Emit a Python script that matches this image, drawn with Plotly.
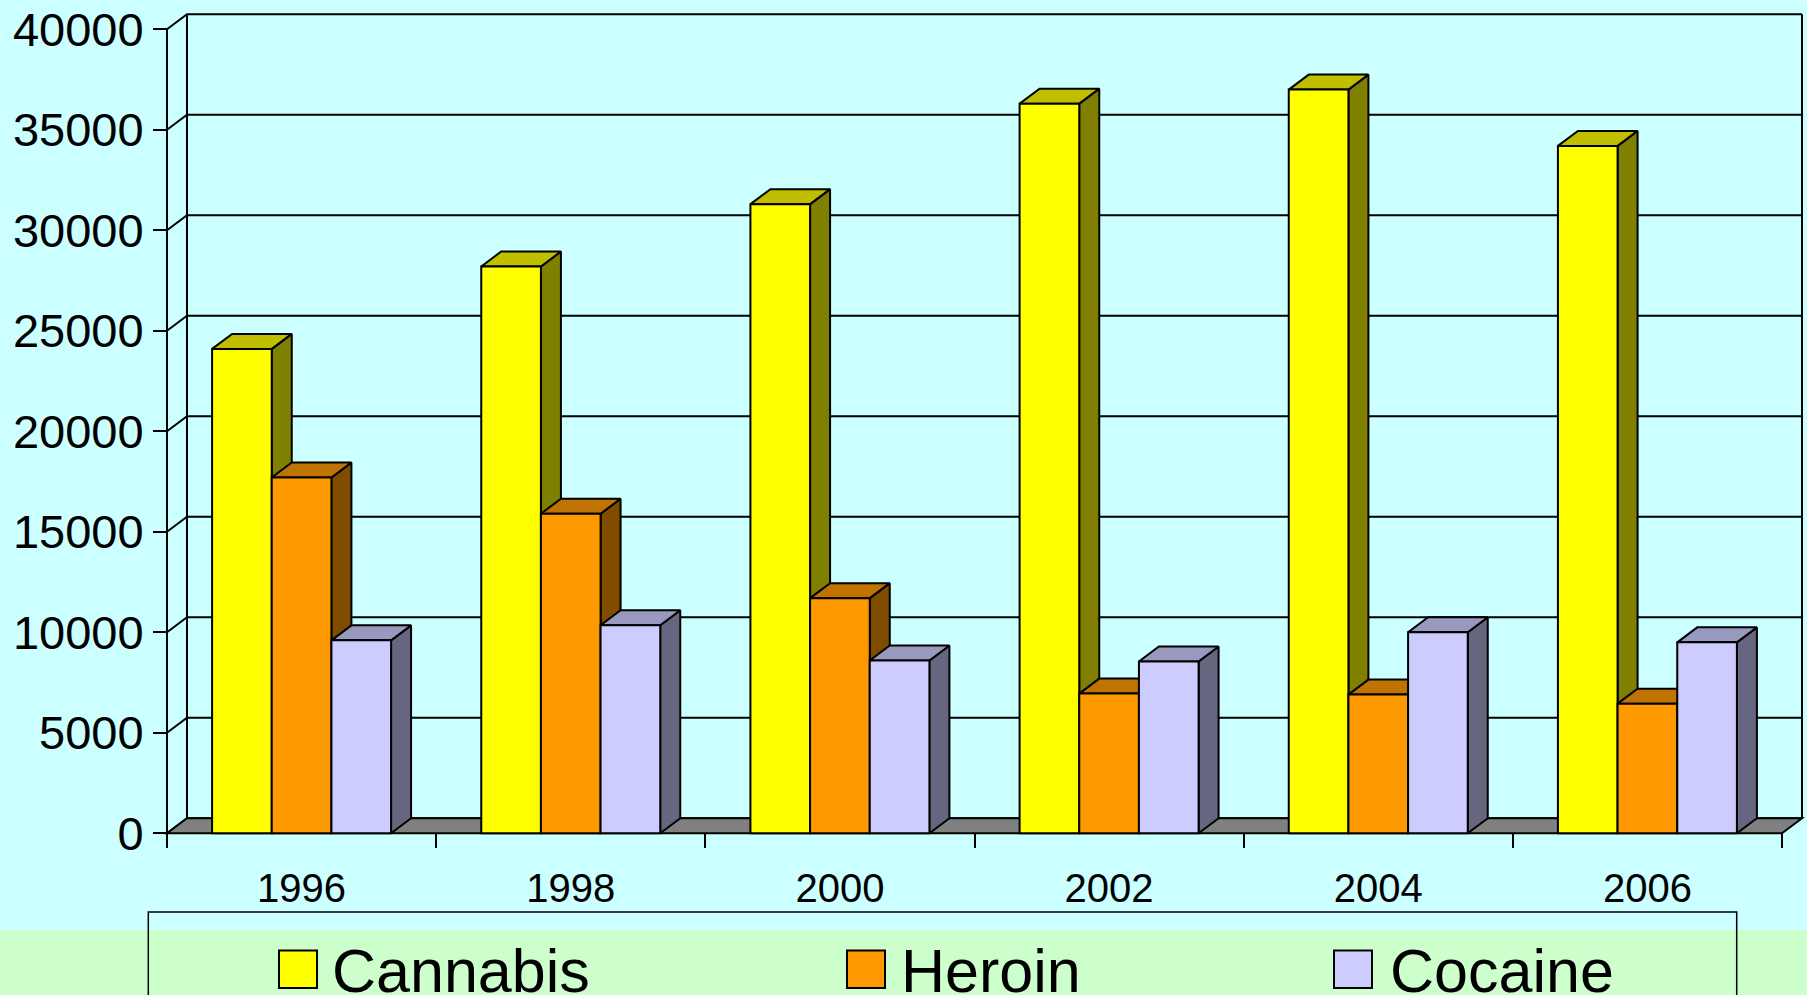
import plotly.graph_objects as go

# ---------------- data ----------------
years = ["1996", "1998", "2000", "2002", "2004", "2006"]
series_names = ["Cannabis", "Heroin", "Cocaine"]
cannabis = [24100, 28200, 31300, 36300, 37000, 34200]
heroin = [17700, 15900, 11700, 6950, 6900, 6450]
cocaine = [9600, 10350, 8600, 8550, 10000, 9500]
y_ticks = [0, 5000, 10000, 15000, 20000, 25000, 30000, 35000, 40000]
y_ticktext = [str(v) for v in y_ticks]

# ---------------- styles ----------------
face_colors = ["#FFFF00", "#FF9900", "#CCCCFF"]
top_colors = ["#BFBF00", "#BF7300", "#9999BF"]
side_colors = ["#808000", "#804C00", "#666680"]
BG = "#CCFFFF"
BAND = "#CCFFCC"
FLOOR = "#808080"
FONT = "Arial, 'Liberation Sans', sans-serif"

W, H = 1807, 995
# pixel geometry of the pseudo-3D box
X_L, X_R = 167.0, 1782.0          # front plane left/right
Y0_PX, YMAX_PX = 833.3, 29.3      # front plane value 0 / value 40000
Y_MAX = 40000
DEPTH_PX_X, DEPTH_PX_Y = 20.0, 15.0
PLOT_L, PLOT_R, PLOT_T, PLOT_B = 158.0, 1807.0, 5.0, 842.0

n = len(years)
ppx = (X_R - X_L) / n
ppy = (Y0_PX - YMAX_PX) / Y_MAX
DX = DEPTH_PX_X / ppx
DY = DEPTH_PX_Y / ppy
x_range = [-0.5 + (PLOT_L - X_L) / ppx, -0.5 + (PLOT_R - X_L) / ppx]
y_range = [(Y0_PX - PLOT_B) / ppy, (Y0_PX - PLOT_T) / ppy]

BARGAP = 0.335
bw = (1 - BARGAP) / len(series_names)
all_series = [cannabis, heroin, cocaine]

fig = go.Figure()

# side and top faces (behind front faces)
for k, vals in enumerate(all_series):
    off = -1.5 * bw + k * bw
    sx, sy, tx, ty = [], [], [], []
    for i, v in enumerate(vals):
        x0 = i + off
        x1 = x0 + bw
        sx += [x1, x1 + DX, x1 + DX, x1, x1, None]
        sy += [0, DY, v + DY, v, 0, None]
        tx += [x0, x1, x1 + DX, x0 + DX, x0, None]
        ty += [v, v, v + DY, v + DY, v, None]
    fig.add_trace(go.Scatter(x=sx, y=sy, mode="lines", fill="toself",
                             fillcolor=side_colors[k],
                             line=dict(color="black", width=2),
                             hoverinfo="skip", showlegend=False, zorder=0))
    fig.add_trace(go.Scatter(x=tx, y=ty, mode="lines", fill="toself",
                             fillcolor=top_colors[k],
                             line=dict(color="black", width=2),
                             hoverinfo="skip", showlegend=False, zorder=0))

# front faces
for k, vals in enumerate(all_series):
    fig.add_trace(go.Bar(x=list(range(n)), y=vals, name=series_names[k],
                         width=bw, offset=-1.5 * bw + k * bw,
                         marker=dict(color=face_colors[k],
                                     line=dict(color="black", width=2)),
                         showlegend=False, zorder=1))

shapes = []
# back-wall gridlines with side-wall diagonals
for v in y_ticks:
    shapes.append(dict(type="path", xref="x", yref="y", layer="below",
                       path=f"M {-0.5},{v} L {-0.5 + DX},{v + DY} L {n - 0.5 + DX},{v + DY}",
                       line=dict(color="black", width=2)))
# back wall verticals
for xb in [-0.5 + DX, n - 0.5 + DX]:
    shapes.append(dict(type="line", xref="x", yref="y", layer="below",
                       x0=xb, x1=xb, y0=DY, y1=Y_MAX + DY,
                       line=dict(color="black", width=2)))
# floor
shapes.append(dict(type="path", xref="x", yref="y", layer="below",
                   path=f"M {-0.5},0 L {n - 0.5},0 L {n - 0.5 + DX},{DY} L {-0.5 + DX},{DY} Z",
                   fillcolor=FLOOR, line=dict(color="black", width=2)))
# front value axis line
shapes.append(dict(type="line", xref="x", yref="y", layer="below",
                   x0=-0.5, x1=-0.5, y0=0, y1=Y_MAX,
                   line=dict(color="black", width=2)))

# bottom green band
shapes.append(dict(type="rect", xref="paper", yref="paper", layer="below",
                   x0=0, x1=1, y0=-0.02, y1=1 - 930 / H,
                   fillcolor=BAND, line=dict(width=0)))

# custom legend
LEG_L, LEG_R, LEG_T = 148.3, 1736.7, 912.0
shapes.append(dict(type="rect", xref="paper", yref="paper",
                   x0=LEG_L / W, x1=LEG_R / W,
                   y0=1 - 1010 / H, y1=1 - LEG_T / H,
                   line=dict(color="black", width=1.5), fillcolor="rgba(0,0,0,0)"))
sw_x = [279, 847, 1334]
txt_x = [330, 899, 1388]
SW = 38
SW_T, SW_B = 950.5, 988.0
annotations = []
for k, name in enumerate(series_names):
    shapes.append(dict(type="rect", xref="paper", yref="paper",
                       x0=sw_x[k] / W, x1=(sw_x[k] + SW) / W,
                       y0=1 - SW_B / H, y1=1 - SW_T / H,
                       fillcolor=face_colors[k], line=dict(color="black", width=2)))
    annotations.append(dict(xref="paper", yref="paper", x=txt_x[k] / W, y=1 - 971 / H,
                            xanchor="left", yanchor="middle", showarrow=False,
                            text=name, font=dict(family=FONT, size=61, color="black")))

fig.update_layout(
    width=W, height=H,
    margin=dict(l=0, r=0, t=0, b=0, autoexpand=False),
    paper_bgcolor=BG, plot_bgcolor="rgba(0,0,0,0)",
    barmode="overlay",
    showlegend=False,
    shapes=shapes,
    annotations=annotations,
    font=dict(family=FONT, color="black"),
    xaxis=dict(domain=[PLOT_L / W, PLOT_R / W], range=x_range,
               anchor="free", position=1 - Y0_PX / H,
               tickmode="array", tickvals=list(range(n)), ticktext=years,
               ticks="", showgrid=False, zeroline=False, showline=False,
               tickfont=dict(family=FONT, size=40, color="black"),
               ticklabelstandoff=28,
               minor=dict(tickmode="array", tickvals=[i - 0.5 for i in range(n + 1)],
                          ticks="outside", ticklen=14, tickwidth=2, tickcolor="black",
                          showgrid=False)),
    yaxis=dict(domain=[1 - PLOT_B / H, 1 - PLOT_T / H], range=y_range,
               anchor="free", position=X_L / W,
               tickmode="array", tickvals=y_ticks, ticktext=y_ticktext,
               ticks="outside", ticklen=14, tickwidth=2, tickcolor="black",
               showgrid=False, zeroline=False, showline=False,
               tickfont=dict(family=FONT, size=47, color="black")),
)

fig.write_html("out.html", config={"displayModeBar": False},
               post_script="document.body.style.margin='0';document.body.style.overflow='hidden';")
